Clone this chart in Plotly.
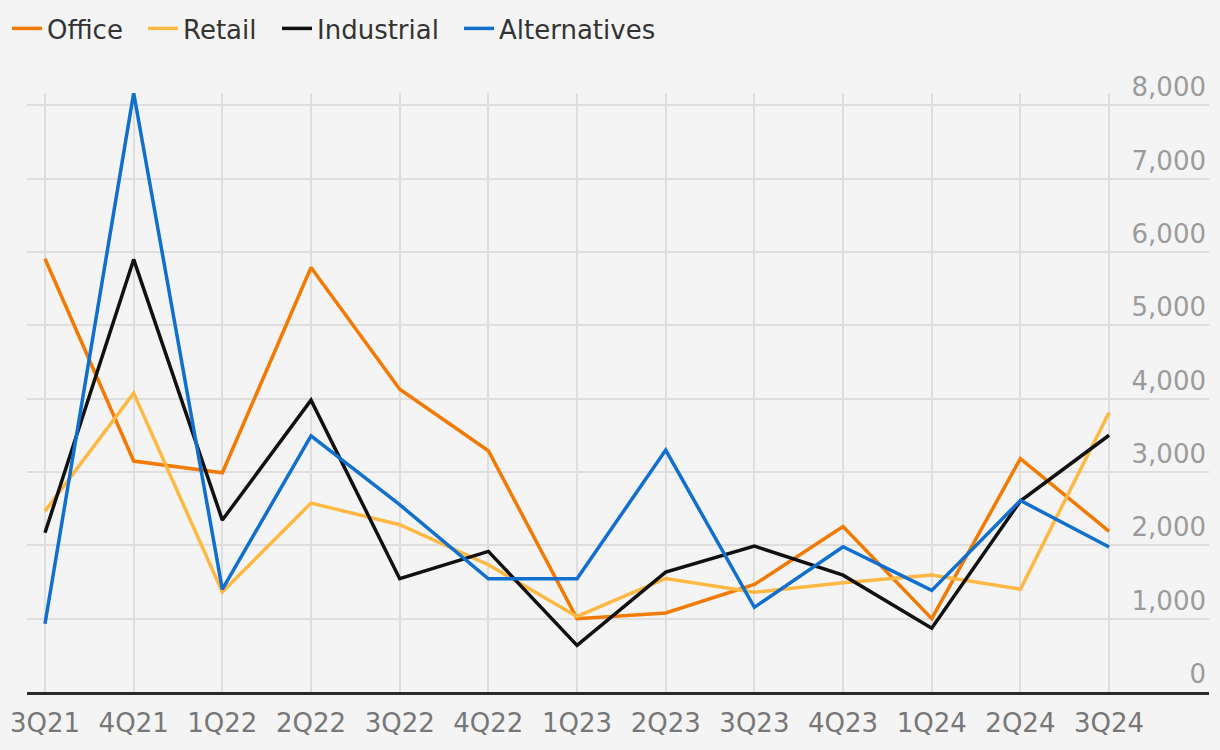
import plotly.graph_objects as go

quarters = ["3Q21", "4Q21", "1Q22", "2Q22", "3Q22", "4Q22", "1Q23",
            "2Q23", "3Q23", "4Q23", "1Q24", "2Q24", "3Q24"]

office = [5910, 3150, 2990, 5790, 4130, 3290, 1000, 1077, 1466, 2256, 1000, 3183, 2192]
retail = [2467, 4077, 1363, 2577, 2282, 1736, 1030, 1548, 1361, 1489, 1596, 1402, 3813]
industrial = [2173, 5900, 2345, 3980, 1545, 1918, 636, 1635, 1990, 1594, 870, 2605, 3502]
alternatives = [932, 8170, 1400, 3493, 2555, 1545, 1545, 3300, 1155, 1982, 1386, 2612, 1977]

y_ticks = [0, 1000, 2000, 3000, 4000, 5000, 6000, 7000, 8000]

series = [
    ("Office", office, "#f37a02"),
    ("Retail", retail, "#ffb843"),
    ("Industrial", industrial, "#111111"),
    ("Alternatives", alternatives, "#106fcf"),
]
legend_ids = ["legend", "legend2", "legend3", "legend4"]
legend_left_px = [7, 143, 277, 459]

x_idx = list(range(len(quarters)))

fig = go.Figure()
for (name, vals, color), lid in zip(series, legend_ids):
    fig.add_trace(go.Scatter(
        x=x_idx, y=vals, name=name, mode="lines",
        line=dict(color=color, width=3.5),
        legend=lid,
    ))

W, H = 1220, 750
legend_common = dict(
    orientation="h", xref="container", yref="container",
    xanchor="left", yanchor="top", y=1 - 5 / H,
    font=dict(size=26, color="#333333", family="DejaVu Sans"),
    bgcolor="rgba(0,0,0,0)", itemwidth=30,
)
layout_legends = {}
for lid, px in zip(legend_ids, legend_left_px):
    layout_legends[lid] = dict(legend_common, x=px / W)

fig.update_layout(
    width=W, height=H,
    paper_bgcolor="#f4f4f4", plot_bgcolor="#f4f4f4",
    margin=dict(l=27, r=11, t=93, b=58, autoexpand=False),
    font=dict(family="DejaVu Sans", color="#333333"),
    showlegend=True,
    **layout_legends,
)

fig.update_xaxes(
    tickmode="array", tickvals=x_idx, ticktext=quarters,
    range=[-0.203, 13.127],
    showgrid=True, gridcolor="#dedede", gridwidth=2,
    zeroline=False,
    showline=True, linecolor="#2a2a2a", linewidth=2.5,
    ticks="", ticklabelstandoff=6,
    tickfont=dict(size=26, color="#777777", family="DejaVu Sans"),
)

fig.update_yaxes(
    side="right", range=[0, 8170],
    tickmode="array", tickvals=y_ticks,
    ticktext=[f"{v:,}" for v in y_ticks],
    showgrid=True, gridcolor="#dedede", gridwidth=2,
    zeroline=False, showline=False, ticks="",
    ticklabelposition="inside top", ticklabeloverflow="allow",
    tickfont=dict(size=26, color="#9b9b9b", family="DejaVu Sans"),
)

fig.write_html("out.html")
